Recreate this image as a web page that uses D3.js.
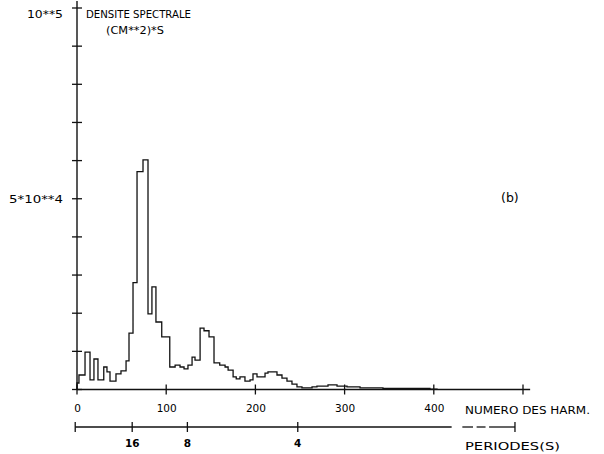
<!DOCTYPE html>
<html>
<head>
<meta charset="utf-8">
<script src="https://cdn.jsdelivr.net/npm/d3@7/dist/d3.min.js"></script>
<style>
  html, body { margin: 0; padding: 0; background: #fff; }
  svg { display: block; }
  text { font-family: "DejaVu Sans", sans-serif; fill: #000; }
</style>
</head>
<body>
<script>
// ---- data ----
// left edges of the spectral bins (harmonic number); last entry is the right edge of the last bin
const binEdges = [0, 2.2, 9, 14.6, 19, 23.5, 30, 33.6, 37, 43.7, 49.3, 55, 58.3, 62.8, 67.3, 74, 79.6,
  84, 88.5, 95, 104, 110, 115.5, 120, 124.4, 129, 132.3, 138, 142.4, 148, 153.6, 160, 166, 169.4,
  175, 178.5, 182.7, 188.3, 194, 197.3, 201.8, 210.8, 214.1, 224.2, 229.8, 235.4, 241, 246.6,
  252.2, 263.5, 269, 281.4, 291.5, 302.7, 317.3, 343, 395.7, 403.6];
// spectral density (cm^2 s) in each bin
const density = [1700, 3800, 9800, 2500, 8000, 2500, 5900, 4600, 2200, 4100, 4900, 7500, 14800,
  28000, 57100, 60200, 19800, 26900, 17700, 13800, 5900, 6400, 5900, 5400, 6400, 8500, 7700,
  16100, 15400, 13800, 7000, 6400, 5900, 5100, 3300, 2800, 3300, 2200, 2500, 4100, 3300, 4300,
  4600, 3800, 3000, 2200, 1400, 700, 400, 700, 900, 1200, 900, 700, 400, 300, 100];
const harmonicTicks = [0, 100, 200, 300, 400, 500];
const harmonicLabels = ["0", "100", "200", "300", "400", ""];
const densityTicks = [0, 10000, 20000, 30000, 40000, 50000, 60000, 70000, 80000, 90000, 100000];
const densityLabels = {50000: "5*10**4", 100000: "10**5"};
const periodTicks = [16, 8, 4];          // seconds
const recordLength = 990;                // harmonic n = recordLength / period

// ---- layout ----
const W = 604, H = 454;
const svg = d3.select("body").append("svg").attr("width", W).attr("height", H);

const x = d3.scaleLinear().domain([0, 500]).range([77, 523]);
const y = d3.scaleLinear().domain([0, 100000]).range([389.5, 8]);
const baseY = y(0);
const periodY = 427;

const ink = "#111";

// Y axis line
svg.append("line").attr("x1", x(0)).attr("x2", x(0)).attr("y1", baseY).attr("y2", 1)
  .attr("stroke", ink).attr("stroke-width", 1.4);
// Y ticks (crosses)
svg.selectAll(".yt").data(densityTicks).enter().append("line")
  .attr("x1", x(0) - 5).attr("x2", x(0) + 5)
  .attr("y1", d => y(d)).attr("y2", d => y(d))
  .attr("stroke", ink).attr("stroke-width", 1.3);

// Y labels via axis
const yAxis = d3.axisLeft(y).tickValues([50000, 100000]).tickSize(0).tickPadding(14)
  .tickFormat(d => densityLabels[d]);
const gy = svg.append("g").attr("transform", `translate(${x(0)},0)`).call(yAxis);
gy.select(".domain").remove();
gy.selectAll("text").attr("font-size", 11).attr("font-family", "DejaVu Sans, sans-serif")
  .attr("fill", ink)
  .attr("dy", "0.36em")
  .attr("textLength", d => d === 100000 ? 36 : 54)
  .attr("lengthAdjust", "spacingAndGlyphs");
gy.selectAll(".tick").filter(d => d === 100000).select("text").attr("dy", "0.85em");

// X axis line
svg.append("line").attr("x1", x(0)).attr("x2", x(508)).attr("y1", baseY).attr("y2", baseY)
  .attr("stroke", ink).attr("stroke-width", 1.3);
svg.selectAll(".xt").data(harmonicTicks).enter().append("line")
  .attr("x1", d => x(d)).attr("x2", d => x(d))
  .attr("y1", baseY - 5).attr("y2", baseY + 5)
  .attr("stroke", ink).attr("stroke-width", 1.3);
const xAxis = d3.axisBottom(x).tickValues(harmonicTicks).tickSize(0).tickPadding(15)
  .tickFormat((d, i) => harmonicLabels[i]);
const gx = svg.append("g").attr("transform", `translate(0,${baseY})`).call(xAxis);
gx.select(".domain").remove();
gx.selectAll("text").attr("font-size", 10.5).attr("font-family", "DejaVu Sans, sans-serif").attr("fill", ink);

// Period axis
const pStart = -2, pEnd = 491;
const pSegs = [[pStart, 420], [432, 444], [448, 458], [462, pEnd]];
svg.selectAll(".pseg").data(pSegs).enter().append("line")
  .attr("x1", d => x(d[0])).attr("x2", d => x(d[1]))
  .attr("y1", periodY).attr("y2", periodY)
  .attr("stroke", ink).attr("stroke-width", 1.3);
const pTickPos = [pStart].concat(periodTicks.map(T => recordLength / T)).concat([pEnd]);
svg.selectAll(".pt").data(pTickPos).enter().append("line")
  .attr("x1", d => x(d)).attr("x2", d => x(d))
  .attr("y1", periodY - 5).attr("y2", periodY + 5)
  .attr("stroke", ink).attr("stroke-width", 1.3);
svg.selectAll(".pl").data(periodTicks).enter().append("text")
  .attr("x", T => x(recordLength / T)).attr("y", periodY + 20)
  .attr("text-anchor", "middle").attr("font-size", 10.5).attr("font-weight", "bold")
  .text(T => T);

// Spectrum step line
const pts = [[0, 0]];
density.forEach((v, i) => { pts.push([binEdges[i], v]); });
pts.push([binEdges[binEdges.length - 1], density[density.length - 1]]);
pts.push([binEdges[binEdges.length - 1], 0]);
const line = d3.line().x(d => x(d[0])).y(d => y(d[1])).curve(d3.curveStepAfter);
svg.append("path").attr("d", line(pts)).attr("fill", "none")
  .attr("stroke", ink).attr("stroke-width", 1.3).attr("stroke-linejoin", "miter");

// Titles
function label(txt, xx, yy, len) {
  svg.append("text").attr("x", xx).attr("y", yy).attr("font-size", 11)
    .attr("textLength", len).attr("lengthAdjust", "spacingAndGlyphs").text(txt);
}
label("DENSITE SPECTRALE", 86, 18, 105);
label("(CM**2)*S", 106, 34, 58);
label("NUMERO DES HARM.", 465, 414, 125);
label("PERIODES(S)", 465, 450, 95);
svg.append("text").attr("x", 501).attr("y", 202).attr("font-size", 12.5).text("(b)");
</script>
</body>
</html>
